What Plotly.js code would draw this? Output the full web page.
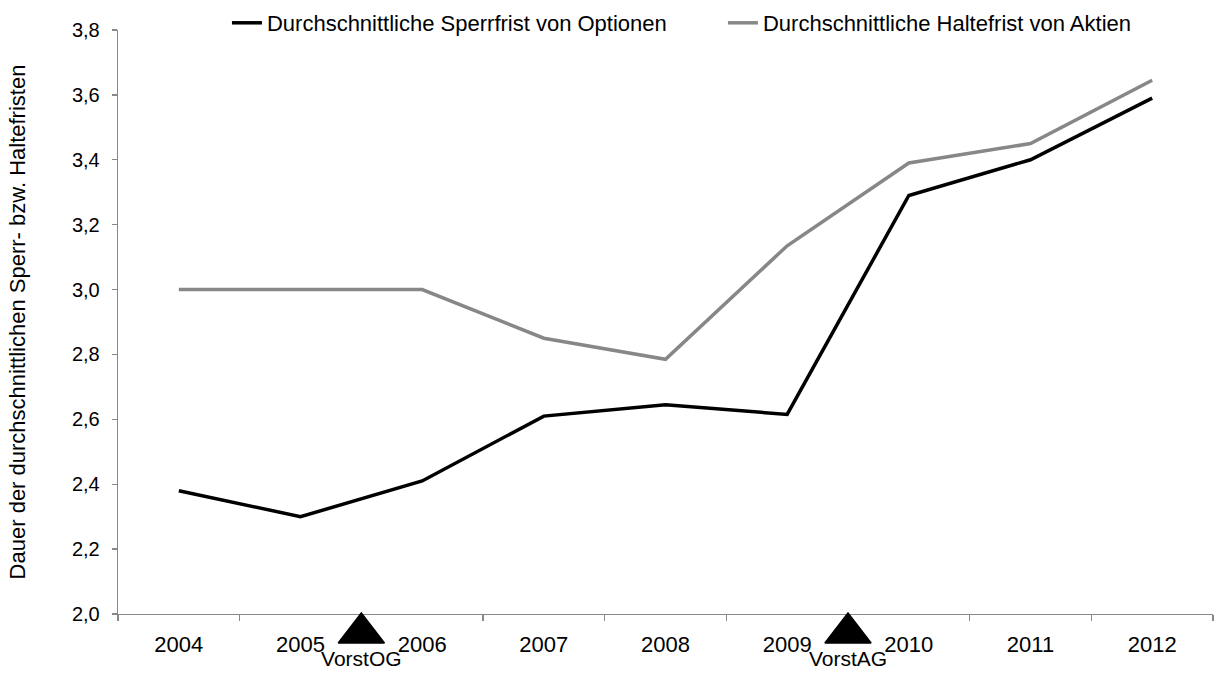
<!DOCTYPE html>
<html>
<head>
<meta charset="utf-8">
<script src="https://cdn.plot.ly/plotly-3.0.1.min.js"></script>
<style>
html, body { margin: 0; padding: 0; background: #fff; }
#chart { width: 1218px; height: 673px; }
</style>
</head>
<body>
<div id="chart"></div>
<script>
// ---- data ----
const years = ["2004", "2005", "2006", "2007", "2008", "2009", "2010", "2011", "2012"];
const sperrfristOptionen = [2.38, 2.30, 2.41, 2.61, 2.645, 2.615, 3.29, 3.40, 3.59];
const haltefristAktien = [3.00, 3.00, 3.00, 2.85, 2.785, 3.135, 3.39, 3.45, 3.645];
const seriesNames = ["Durchschnittliche Sperrfrist von Optionen", "Durchschnittliche Haltefrist von Aktien"];
const eventPositions = [1.5, 5.5];           // between 2005/2006 and 2009/2010 (category index)
const eventLabels = ["VorstOG", "VorstAG"];
const yTitle = "Dauer der durchschnittlichen Sperr- bzw. Haltefristen";

const FONT = "Liberation Sans, Arial, sans-serif";

// category index positions, and category boundaries for tick marks
const xIdx = years.map((_, i) => i);
const boundaries = years.map((_, i) => i - 0.5).concat([years.length - 0.5]);

// lower strip (below the x axis) used for the event markers: 0 = bottom, 59 = x axis line
const STRIP = 59;
const markerLevel = eventPositions.map(() => 40);
const labelLevel = eventPositions.map(() => 12);

const traces = [
  {
    x: xIdx, y: sperrfristOptionen, name: seriesNames[0],
    type: "scatter", mode: "lines",
    line: { color: "#000000", width: 3.5 },
    hoverinfo: "skip"
  },
  {
    x: xIdx, y: haltefristAktien, name: seriesNames[1],
    type: "scatter", mode: "lines",
    line: { color: "#878787", width: 3.5 },
    hoverinfo: "skip"
  },
  {
    x: eventPositions, y: markerLevel, yaxis: "y2",
    type: "scatter", mode: "markers", showlegend: false,
    marker: { symbol: "triangle-up", size: 40, color: "#000000", line: { width: 1.5, color: "#000000" } },
    cliponaxis: false, hoverinfo: "skip"
  },
  {
    x: eventPositions, y: labelLevel, yaxis: "y2",
    type: "scatter", mode: "text", showlegend: false,
    text: eventLabels, textposition: "middle center",
    textfont: { family: FONT, size: 21, color: "#000000" },
    cliponaxis: false, hoverinfo: "skip"
  }
];

const H = 673, T = 30;
const splitFrac = STRIP / (H - T);

const layout = {
  width: 1218, height: H,
  paper_bgcolor: "#ffffff", plot_bgcolor: "rgba(0,0,0,0)",
  separators: ",.",
  font: { family: FONT, size: 20, color: "#000000" },
  margin: { l: 118, r: 5, t: T, b: 0, autoexpand: false },
  showlegend: true,
  legend: {
    orientation: "h",
    x: 0.0995, xanchor: "left",
    y: 1 + 28 / (H - T), yanchor: "top",
    font: { family: FONT, size: 22, color: "#000000" },
    bgcolor: "rgba(0,0,0,0)",
    entrywidth: 451, entrywidthmode: "pixels",
    itemwidth: 30
  },
  xaxis: {
    type: "linear", anchor: "y",
    range: [-0.5, years.length - 0.5],
    tickmode: "array", tickvals: xIdx, ticktext: years,
    ticks: "",
    minor: {
      tickmode: "array", tickvals: boundaries,
      ticks: "outside", ticklen: 6, tickcolor: "#888888", tickwidth: 1.3,
      showgrid: false
    },
    showgrid: false, zeroline: false,
    showline: true, linecolor: "#888888", linewidth: 1.3,
    ticklabelstandoff: 10,
    tickfont: { family: FONT, size: 22, color: "#000000" },
    fixedrange: true
  },
  yaxis: {
    domain: [splitFrac, 1], anchor: "x",
    range: [2.0, 3.8],
    tick0: 2.0, dtick: 0.2,
    tickformat: ".1f",
    showgrid: false, zeroline: false,
    showline: true, linecolor: "#888888", linewidth: 1.3,
    ticks: "outside", ticklen: 5, tickcolor: "#888888", tickwidth: 1.3,
    ticklabelstandoff: 8,
    tickfont: { family: FONT, size: 20, color: "#000000" },
    title: { text: yTitle, font: { family: FONT, size: 22, color: "#000000" }, standoff: 40 },
    fixedrange: true
  },
  yaxis2: {
    domain: [0, splitFrac], anchor: "x",
    range: [0, STRIP],
    visible: false, showgrid: false, zeroline: false, fixedrange: true
  }
};

Plotly.newPlot("chart", traces, layout, { displayModeBar: false, staticPlot: true });
</script>
</body>
</html>
